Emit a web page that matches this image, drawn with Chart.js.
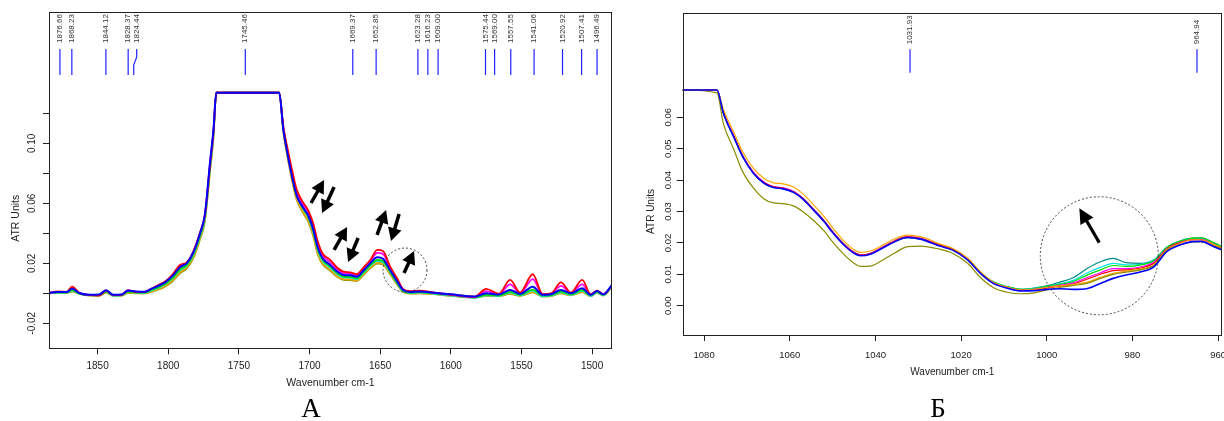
<!DOCTYPE html>
<html>
<head>
<meta charset="utf-8">
<script src="https://cdn.jsdelivr.net/npm/chart.js@4.4.1/dist/chart.umd.min.js"></script>
<style>
  html, body { margin: 0; padding: 0; background: #fff; }
  #wrap { position: relative; width: 1224px; height: 421px; overflow: hidden; }
  .panel { position: absolute; top: 0; }
  #pa { left: 0; }
  #pb { left: 634px; }
</style>
</head>
<body>
<div id="wrap">
  <div class="panel" id="pa"><canvas id="ca" width="625" height="421"></canvas></div>
  <div class="panel" id="pb"><canvas id="cb" width="590" height="421"></canvas></div>
</div>
<script>
// ---- panel A data (1885 - 1486 cm-1) ----
const wnA = [1885, 1878, 1872, 1868, 1863, 1855, 1849, 1844, 1839, 1833, 1828.5, 1823, 1817, 1812, 1807, 1802, 1797, 1791.5, 1787, 1782,
  1777.5, 1774, 1770.5, 1768, 1766, 1721.5, 1718.5, 1716, 1711.5, 1709, 1704.5, 1701, 1697.5, 1694, 1690.5, 1685.5, 1680.5, 1676, 1671.5, 1666.5,
  1662, 1657, 1652, 1648, 1643, 1638, 1634, 1629, 1622, 1612, 1600, 1583, 1575, 1566, 1558, 1551, 1542, 1535, 1529, 1522,
  1515, 1507, 1501, 1496.5, 1492, 1486];

const blueA = [.0002, .0009, .0008, .0030, .0002, -.0010, -.0008, .0020, -.0010, -.0008, .0018, .0012, .0010, .0030, .0050, .0075, .0115, .0175, .0200, .0278,
  .0400, .0530, .0867, .1090, .1337, .1337, .1090, .0950, .0740, .0650, .0570, .0520, .0430, .0300, .0230, .0190, .0145, .0122, .0120, .0110,
  .0150, .0200, .0240, .0230, .0155, .0080, .0025, .0008, .0012, .0004, -.0007, -.0022, .0000, -.0008, .0022, -.0004, .0044, -.0010, -.0006, .0022,
  .0000, .0033, -.0010, .0015, -.0007, .0055];
const redA = [.0002, .0012, .0010, .0045, .0003, -.0012, -.0015, .0018, -.0012, -.0010, .0020, .0010, .0008, .0030, .0055, .0080, .0125, .0190, .0205, .0285,
  .0405, .0525, .0850, .1070, .1337, .1337, .1110, .0985, .0785, .0690, .0605, .0555, .0470, .0340, .0262, .0225, .0172, .0145, .0140, .0128,
  .0170, .0222, .0289, .0282, .0180, .0100, .0030, .0015, .0018, .0005, -.0008, -.0022, .0030, -.0003, .0089, .0005, .0127, -.0005, .0000, .0073,
  .0005, .0089, -.0005, .0018, -.0005, .0050];
const magentaA = [.0002, .0010, .0009, .0038, .0002, -.0011, -.0012, .0020, -.0011, -.0009, .0019, .0011, .0009, .0030, .0052, .0077, .0120, .0182, .0202, .0280,
  .0402, .0527, .0858, .1080, .1337, .1337, .1100, .0970, .0765, .0672, .0590, .0540, .0452, .0322, .0248, .0210, .0160, .0135, .0132, .0120,
  .0162, .0212, .0270, .0262, .0168, .0090, .0028, .0012, .0015, .0004, -.0010, -.0026, .0015, -.0005, .0060, .0000, .0095, -.0008, -.0003, .0050,
  .0002, .0060, -.0008, .0016, -.0006, .0052];
const greenA = [.0001, .0006, .0005, .0022, .0000, -.0012, -.0012, .0012, -.0013, -.0012, .0010, .0006, .0004, .0022, .0040, .0064, .0102, .0160, .0188, .0265,
  .0385, .0510, .0840, .1065, .1337, .1337, .1095, .0958, .0745, .0650, .0565, .0512, .0420, .0290, .0220, .0180, .0135, .0112, .0110, .0100,
  .0140, .0188, .0222, .0215, .0145, .0072, .0020, .0005, .0008, .0000, -.0012, -.0028, -.0010, -.0015, .0010, -.0010, .0025, -.0016, -.0012, .0012,
  -.0006, .0022, -.0014, .0010, -.0010, .0050];
const cyanA = [.0000, .0005, .0004, .0018, -.0002, -.0014, -.0014, .0010, -.0015, -.0013, .0008, .0004, .0002, .0018, .0036, .0060, .0098, .0155, .0183, .0260,
  .0380, .0505, .0830, .1060, .1337, .1337, .1100, .0965, .0750, .0652, .0562, .0508, .0412, .0282, .0212, .0172, .0128, .0106, .0104, .0095,
  .0135, .0182, .0215, .0208, .0140, .0068, .0015, .0002, .0004, -.0003, -.0015, -.0030, -.0014, -.0018, .0005, -.0014, .0018, -.0020, -.0016, .0006,
  -.0010, .0016, -.0018, .0006, -.0013, .0048];
const orangeA = [.0000, .0004, .0003, .0015, -.0003, -.0015, -.0016, .0006, -.0016, -.0015, .0004, .0001, .0000, .0014, .0030, .0052, .0088, .0145, .0175, .0250,
  .0370, .0495, .0820, .1050, .1337, .1337, .1080, .0940, .0725, .0630, .0545, .0490, .0395, .0265, .0198, .0160, .0116, .0096, .0094, .0087,
  .0126, .0172, .0205, .0198, .0132, .0062, .0012, .0000, .0001, -.0005, -.0016, -.0028, -.0016, -.0018, .0000, -.0016, .0010, -.0020, -.0018, .0002,
  -.0012, .0010, -.0018, .0004, -.0014, .0046];
const oliveA = [-.0001, .0003, .0002, .0012, -.0004, -.0016, -.0017, .0004, -.0017, -.0016, .0002, .0000, -.0001, .0010, .0025, .0046, .0080, .0135, .0165, .0240,
  .0360, .0485, .0810, .1040, .1337, .1337, .1075, .0932, .0715, .0620, .0535, .0480, .0385, .0255, .0190, .0152, .0110, .0090, .0088, .0082,
  .0120, .0166, .0198, .0192, .0128, .0058, .0010, -.0002, -.0001, -.0006, -.0017, -.0026, -.0017, -.0019, -.0004, -.0017, .0006, -.0021, -.0019, .0000,
  -.0013, .0008, -.0019, .0003, -.0015, .0045];

const peaksA = [1876.66, 1868.23, 1844.12, 1828.37, 1824.44, 1745.46, 1669.37, 1652.85, 1623.28, 1616.23, 1609.00,
  1575.44, 1569.00, 1557.55, 1541.06, 1520.92, 1507.41, 1496.49];
const xTicksA = [1500, 1550, 1600, 1650, 1700, 1750, 1800, 1850];
const yTicksA = [-0.02, 0, 0.02, 0.04, 0.06, 0.08, 0.10, 0.12];
const yLabelsA = [-0.02, 0.02, 0.06, 0.10];

// ---- panel B data (1085 - 959 cm-1) ----
const wnB = [1085, 1077, 1075.5, 1073, 1071, 1068.5, 1066, 1064, 1061.5, 1059, 1057, 1054.5, 1052, 1050, 1047.5, 1045, 1043.5, 1041, 1038, 1035.5,
  1032.5, 1029.5, 1025, 1022, 1018.5, 1015.5, 1012.5, 1009, 1006, 1003, 1000, 997, 994, 990.5, 987.5, 984.5, 981.5, 978, 975, 972,
  969, 966, 964, 961, 959];

const blueB = [.0687, .0687, .0613, .0535, .0475, .0422, .0390, .0377, .0372, .0360, .0340, .0305, .0268, .0233, .0195, .0167, .0159, .0165, .0186, .0204,
  .0217, .0212, .0190, .0177, .0146, .0103, .0071, .0055, .0047, .0048, .0052, .0054, .0052, .0055, .0071, .0087, .0098, .0108, .0124, .0172,
  .0193, .0204, .0205, .0188, .0177];
const oliveB = [.0687, .0678, .0580, .0495, .0427, .0375, .0340, .0328, .0325, .0317, .0300, .0272, .0238, .0203, .0165, .0135, .0125, .0127, .0148, .0168,
  .0188, .0190, .0180, .0167, .0135, .0090, .0058, .0042, .0038, .0041, .0050, .0058, .0064, .0072, .0087, .0100, .0107, .0114, .0128, .0175,
  .0193, .0203, .0203, .0190, .0180];
const orangeB = [.0687, .0687, .0625, .0550, .0490, .0437, .0405, .0392, .0388, .0377, .0357, .0322, .0284, .0248, .0208, .0178, .0170, .0175, .0195, .0213,
  .0225, .0220, .0197, .0183, .0152, .0108, .0075, .0058, .0050, .0052, .0058, .0063, .0067, .0075, .0090, .0103, .0110, .0117, .0130, .0178,
  .0198, .0210, .0210, .0195, .0184];
const redB = [.0687, .0687, .0615, .0537, .0477, .0424, .0392, .0379, .0374, .0362, .0342, .0307, .0270, .0235, .0197, .0169, .0161, .0167, .0188, .0206,
  .0219, .0214, .0192, .0179, .0148, .0105, .0073, .0057, .0049, .0050, .0056, .0062, .0068, .0085, .0100, .0112, .0114, .0120, .0135, .0180,
  .0200, .0210, .0210, .0194, .0182];
const magentaB = [.0687, .0687, .0616, .0538, .0478, .0425, .0393, .0380, .0375, .0363, .0343, .0308, .0271, .0236, .0198, .0170, .0162, .0168, .0189, .0207,
  .0220, .0215, .0193, .0180, .0149, .0106, .0074, .0058, .0050, .0052, .0058, .0065, .0072, .0090, .0105, .0118, .0118, .0124, .0138, .0181,
  .0201, .0210, .0211, .0195, .0183];
const greenB = [.0687, .0687, .0614, .0536, .0476, .0423, .0391, .0378, .0373, .0362, .0343, .0308, .0271, .0236, .0198, .0170, .0162, .0168, .0189, .0207,
  .0219, .0214, .0193, .0180, .0150, .0107, .0076, .0060, .0052, .0054, .0062, .0068, .0076, .0098, .0114, .0128, .0125, .0130, .0143, .0185,
  .0205, .0215, .0216, .0200, .0187];
const cyanB = [.0687, .0687, .0614, .0536, .0476, .0423, .0391, .0378, .0373, .0361, .0342, .0307, .0270, .0235, .0197, .0169, .0161, .0167, .0188, .0206,
  .0218, .0213, .0192, .0179, .0149, .0107, .0076, .0060, .0052, .0055, .0062, .0070, .0080, .0105, .0122, .0135, .0130, .0132, .0145, .0185,
  .0204, .0213, .0214, .0198, .0186];
const tealB = [.0687, .0687, .0613, .0535, .0475, .0422, .0390, .0377, .0372, .0360, .0341, .0306, .0269, .0234, .0196, .0168, .0160, .0166, .0187, .0205,
  .0217, .0212, .0191, .0178, .0148, .0106, .0075, .0059, .0052, .0056, .0063, .0075, .0088, .0119, .0140, .0151, .0137, .0135, .0146, .0186,
  .0206, .0215, .0216, .0200, .0187];

const peaksB = [1031.93, 964.94];
const xTicksB = [960, 980, 1000, 1020, 1040, 1060, 1080];
const yTicksB = [0, 0.01, 0.02, 0.03, 0.04, 0.05, 0.06];
const yLabelsB = [0, 0.01, 0.02, 0.03, 0.04, 0.05, 0.06];

// first dataset is painted on top
const valuesA = [blueA, redA, magentaA, greenA, cyanA, orangeA, oliveA];
const colorsA = ['#0000ff', '#ff0000', '#ff00ff', '#00dd00', '#00e5e5', '#ffa500', '#9a9a00'];
const valuesB = [blueB, oliveB, orangeB, redB, magentaB, greenB, cyanB, tealB];
const colorsB = ['#0000ff', '#8b8b00', '#ffa500', '#ff0000', '#ff00ff', '#00dd00', '#00e5e5', '#008b8b'];

const FONT = '"Liberation Sans", Arial, Helvetica, sans-serif';
const SERIF = '"Liberation Serif", "Times New Roman", serif';
const INK = '#222';

function vtext(ctx, s, x, y, align) {
  ctx.save();
  ctx.translate(x, y);
  ctx.rotate(-Math.PI / 2);
  ctx.textAlign = align;
  ctx.textBaseline = 'middle';
  ctx.fillText(s, 0, 0);
  ctx.restore();
}

function arrow(ctx, x1, y1, x2, y2, head, half, width) {
  const ang = Math.atan2(y2 - y1, x2 - x1);
  const c = Math.cos(ang), s = Math.sin(ang);
  const bx = x2 - head * c, by = y2 - head * s;
  ctx.lineWidth = width;
  ctx.lineCap = 'butt';
  ctx.beginPath(); ctx.moveTo(x1, y1); ctx.lineTo(bx + c, by + s); ctx.stroke();
  ctx.beginPath();
  ctx.moveTo(x2, y2);
  ctx.lineTo(bx + half * s, by - half * c);
  ctx.lineTo(bx - half * s, by + half * c);
  ctx.closePath();
  ctx.fill();
}

// frame, rotated y labels, peak markers, arrows, circles, panel letter
const decor = {
  id: 'decor',
  afterDraw(chart, args, o) {
    const {ctx, chartArea: a} = chart;
    const sx = chart.scales.x, sy = chart.scales.y;
    ctx.save();
    ctx.strokeStyle = INK;
    ctx.lineWidth = 1;
    const l = Math.round(a.left) + 0.5, t = Math.round(a.top) + 0.5;
    const r = Math.round(a.right) - 0.5, b = Math.round(a.bottom) - 0.5;
    ctx.strokeRect(l, t, r - l, b - t);

    ctx.fillStyle = INK;
    ctx.font = o.tickSize + 'px ' + FONT;
    o.yLabels.forEach(v => vtext(ctx, v.toFixed(2), a.left - o.yLabelGap, sy.getPixelForValue(v), 'center'));
    ctx.font = o.titleSize + 'px ' + FONT;
    vtext(ctx, 'ATR Units', a.left - o.yTitleGap, sy.getPixelForValue(o.yTitleAt), 'center');

    // peak picks
    ctx.font = '8px ' + FONT;
    ctx.fillStyle = '#333';
    o.peaks.forEach((p, i) => {
      const px = sx.getPixelForValue(p);
      const lx = px + (o.nudge[i] || 0);
      vtext(ctx, p.toFixed(2), lx, a.top + 31, 'left');
      ctx.strokeStyle = '#2222ff';
      ctx.lineWidth = 1.2;
      ctx.beginPath();
      ctx.moveTo(lx, a.top + o.pickTop);
      if (lx !== px) {
        ctx.lineTo(lx, a.top + o.pickTop + 8);
        ctx.lineTo(px, a.top + o.pickTop + 16);
      }
      ctx.lineTo(px, a.top + o.pickBottom);
      ctx.stroke();
    });

    // dashed circles
    ctx.strokeStyle = '#333';
    ctx.lineWidth = 0.9;
    ctx.setLineDash([2, 2]);
    o.circles.forEach(([w, v, rad]) => {
      ctx.beginPath();
      ctx.arc(sx.getPixelForValue(w), sy.getPixelForValue(v), rad, 0, Math.PI * 2);
      ctx.stroke();
    });
    ctx.setLineDash([]);

    // arrows
    ctx.strokeStyle = '#000';
    ctx.fillStyle = '#000';
    o.arrows.forEach(([w1, v1, w2, v2]) => {
      arrow(ctx, sx.getPixelForValue(w1), sy.getPixelForValue(v1),
        sx.getPixelForValue(w2), sy.getPixelForValue(v2), o.head, o.half, o.shaft);
    });

    ctx.fillStyle = '#000';
    ctx.font = '27px ' + SERIF;
    ctx.textAlign = 'center';
    ctx.textBaseline = 'alphabetic';
    ctx.fillText(o.letter, o.letterX, 417);
    ctx.restore();
  }
};

function makeChart(id, cfg) {
  const datasets = cfg.values.map((vals, k) => ({
    label: 'spectrum ' + (k + 1),
    data: cfg.wn.map((x, i) => ({x, y: vals[i]})),
    borderColor: cfg.colors[k],
    borderWidth: k === 0 ? cfg.lineTop : cfg.lineWidth,
    pointRadius: 0,
    fill: false,
    cubicInterpolationMode: 'monotone',
    borderJoinStyle: 'round',
    borderCapStyle: 'round'
  }));
  return new Chart(document.getElementById(id), {
    type: 'line',
    data: {datasets},
    options: {
      responsive: false,
      animation: false,
      events: [],
      layout: {padding: cfg.padding},
      plugins: {legend: {display: false}, tooltip: {enabled: false}, decor: cfg.decor},
      scales: {
        x: {
          type: 'linear', reverse: true, min: cfg.xMin, max: cfg.xMax,
          afterBuildTicks: s => { s.ticks = cfg.xTicks.map(v => ({value: v})); },
          afterFit: s => { s.height = cfg.xHeight; },
          border: {display: false},
          grid: {drawOnChartArea: false, tickLength: 5, color: INK},
          ticks: {padding: cfg.xPad, autoSkip: false, maxRotation: 0, color: INK,
            font: {size: cfg.decor.tickSize, family: FONT}, callback: v => String(v)},
          title: {display: true, text: 'Wavenumber cm-1', color: INK, padding: 0,
            font: {size: cfg.decor.titleSize, family: FONT}}
        },
        y: {
          type: 'linear', min: cfg.yMin, max: cfg.yMax,
          afterBuildTicks: s => { s.ticks = cfg.yTicks.map(v => ({value: v})); },
          afterFit: s => { s.width = cfg.yWidth; },
          border: {display: false},
          grid: {drawOnChartArea: false, tickLength: 6, color: INK},
          ticks: {display: false}
        }
      }
    },
    plugins: [decor]
  });
}

makeChart('ca', {
  wn: wnA, values: valuesA, colors: colorsA, lineWidth: 1.8, lineTop: 2,
  padding: {left: 0, right: 13, top: 12, bottom: 31.7},
  xMin: 1485.9, xMax: 1884.4, xTicks: xTicksA, xHeight: 40, xPad: 6,
  yMin: -0.03733, yMax: 0.18753, yTicks: yTicksA, yWidth: 49,
  decor: {
    tickSize: 10, titleSize: 10.5, yLabels: yLabelsA, yLabelGap: 16.7, yTitleGap: 33, yTitleAt: 0.05,
    peaks: peaksA, nudge: {4: 3}, pickTop: 37, pickBottom: 63,
    circles: [[1632.4, 0.0155, 22]],
    arrows: [
      [1698.9, 0.0602, 1689.7, 0.0755], [1682.6, 0.0709, 1691.1, 0.0535],
      [1682.6, 0.0289, 1673.4, 0.0442], [1665.6, 0.0369, 1672.7, 0.0209],
      [1652.2, 0.0389, 1645.8, 0.0555], [1636.6, 0.0529, 1642.3, 0.0349],
      [1633.1, 0.0135, 1626.0, 0.0282]
    ],
    head: 13, half: 7, shaft: 3.5,
    letter: 'А', letterX: 311
  }
});

makeChart('cb', {
  wn: wnB, values: valuesB, colors: colorsB, lineWidth: 1.2, lineTop: 1.6,
  padding: {left: 0, right: 2, top: 13.3, bottom: 43},
  xMin: 959.1, xMax: 1085, xTicks: xTicksB, xHeight: 42, xPad: 8.3,
  yMin: -0.00965, yMax: 0.09312, yTicks: yTicksB, yWidth: 48.7,
  decor: {
    tickSize: 9.5, titleSize: 10, yLabels: yLabelsB, yLabelGap: 14.5, yTitleGap: 31, yTitleAt: 0.03,
    peaks: peaksB, nudge: {}, pickTop: 36, pickBottom: 59.5,
    circles: [[987.75, 0.0159, 59]],
    arrows: [[987.75, 0.0201, 992.4, 0.0310]],
    head: 15, half: 7.5, shaft: 3.2,
    letter: 'Б', letterX: 304
  }
});
</script>
</body>
</html>
